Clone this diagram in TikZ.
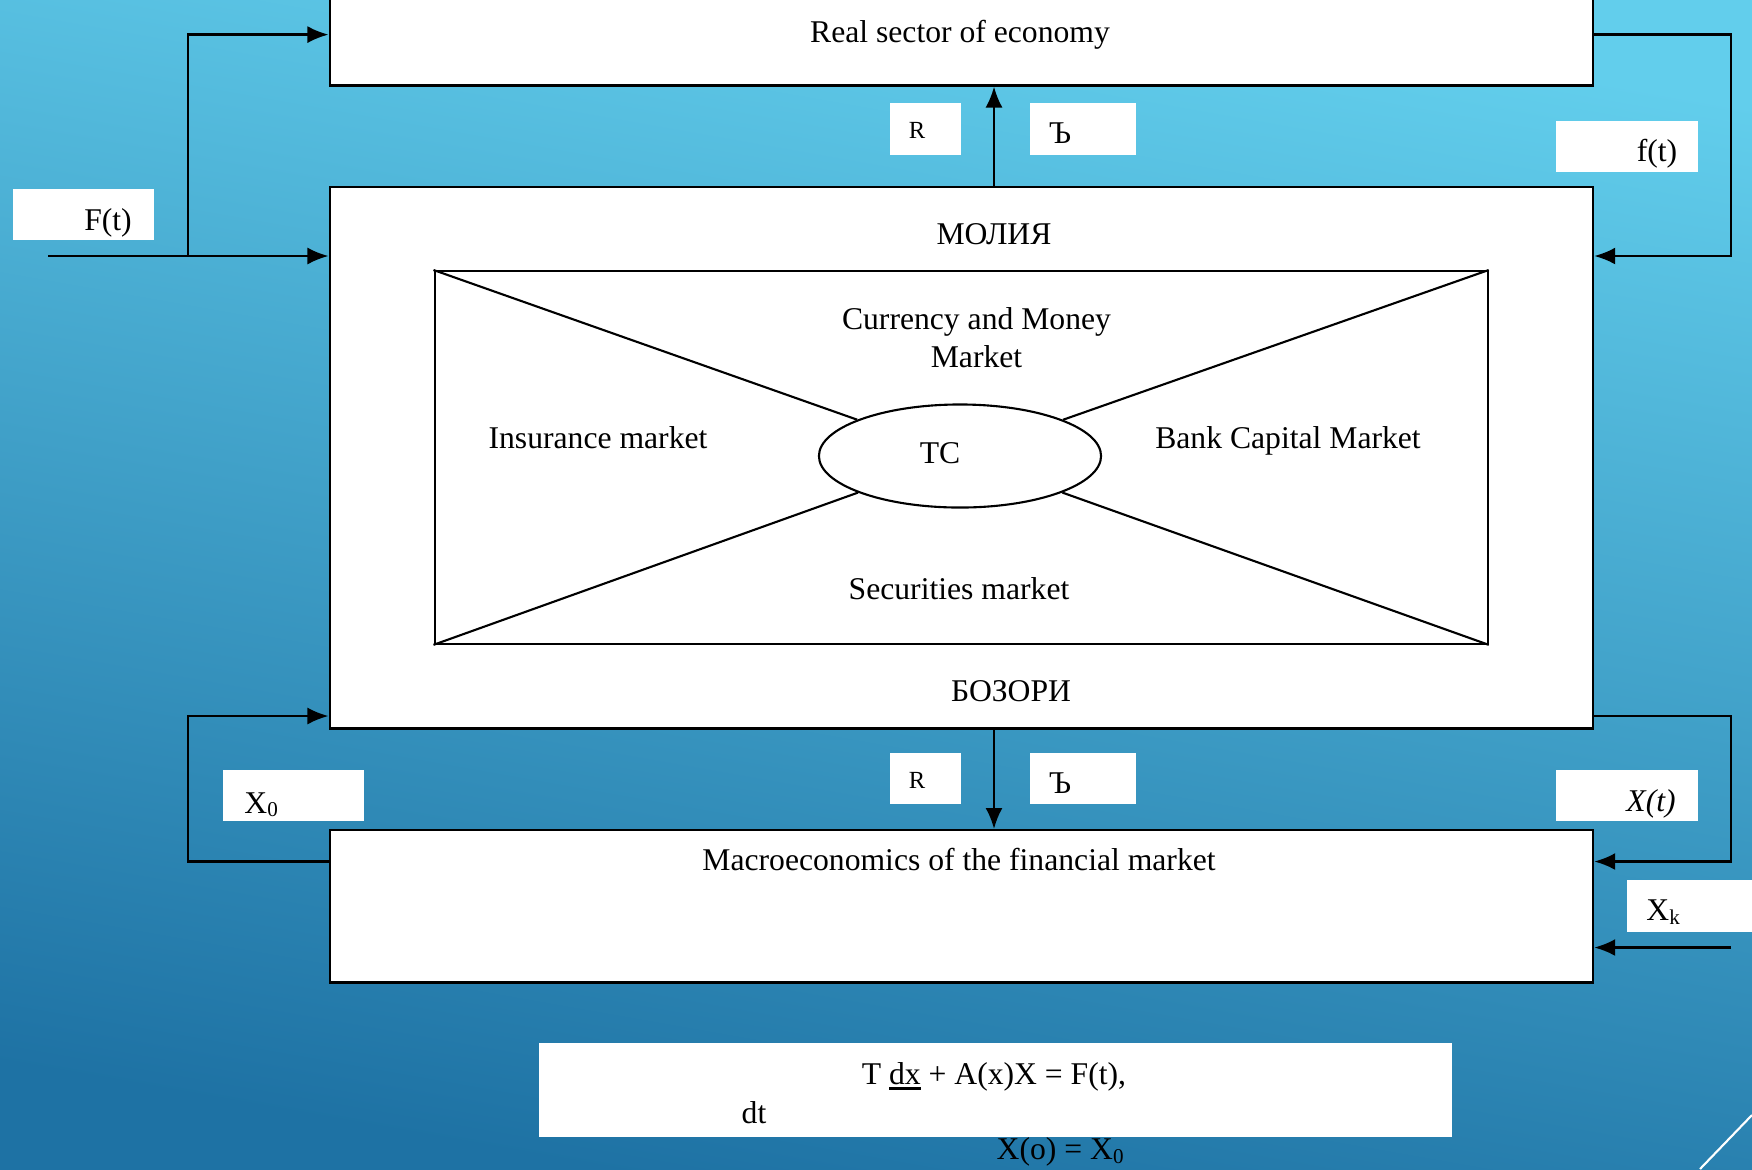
\documentclass[tikz,border=0pt]{standalone}
\usepackage{fontspec}
\setmainfont{Liberation Serif}
\usetikzlibrary{arrows.meta,shapes.geometric}
\definecolor{bgtop}{RGB}{98,206,236}
\definecolor{bgbot}{RGB}{30,114,164}
% heavier underline for the fraction numerator
\newcommand{\thickul}[1]{\setbox0\hbox{#1}\rlap{\rule[-1.6pt]{\wd0}{0.65pt}}\box0\relax}

\begin{document}
\begin{tikzpicture}[x=0.01cm, y=-0.01cm,
        >=Latex, font=\fontsize{9}{10.8}\selectfont,
        box/.style={draw, fill=white, line width=0.7pt, inner sep=0pt, anchor=north west},
        tag/.style={fill=white, inner sep=0pt, anchor=north west},
        line/.style={-{Latex[length=2.1mm,width=1.7mm]}, line width=0.7pt},
        wire/.style={line width=0.6pt}]
        % background
        \shade[top color=bgtop, bottom color=bgbot, shading angle=-10] (0,0) rectangle (1752,1169);
        \useasboundingbox (0,0) rectangle (1752,1169);
        \draw[white, line width=0.6pt] (1700,1169) -- (1752,1115);

        % blocks
        \node[box, minimum width=12.625cm, minimum height=0.9cm] (real) at (328.5,-6) {};
        \node (realtxt) at (960,34.5) {Real sector of economy};
        \node[box, minimum width=12.625cm, minimum height=5.415cm] (mkt) at (328.5,185.5) {};
        \node (mkttop) at (994,234.5) {МОЛИЯ};
        \node (mktbot) at (1011,691.5) {БОЗОРИ};
        \node[box, minimum width=12.625cm, minimum height=1.52cm] (macro) at (328.5,829) {};
        \node (macrotxt) at (959,859) {Macroeconomics of the financial market};

        % inner cross with the ellipse
        \node[box, line width=0.6pt, minimum width=10.525cm, minimum height=3.725cm] (inner) at (433.5,270) {};
        \node[draw, ellipse, fill=white, line width=0.6pt, inner sep=0pt,
            minimum width=2.82cm, minimum height=1.03cm] (tc) at (960,456) {};
        \draw[wire] (inner.north west) -- (tc);
        \draw[wire] (inner.north east) -- (tc);
        \draw[wire] (inner.south west) -- (tc);
        \draw[wire] (inner.south east) -- (tc);
        \node (tctxt) at (940,453.5) {TC};
        \node[align=center] (cur) at (976.5,338) {Currency and Money\\Market};
        \node (ins) at (598,438) {Insurance market};
        \node (bank) at (1288,440.5) {Bank Capital Market};
        \node (sec) at (959,589) {Securities market};

        % white tags
        \node[tag, minimum width=0.71cm, minimum height=0.52cm] (rtop) at (889,102) {};
        \node[tag, minimum width=1.06cm, minimum height=0.52cm] (htop) at (1029,102) {};
        \node[tag, minimum width=0.71cm, minimum height=0.51cm] (rbot) at (889,752) {};
        \node[tag, minimum width=1.06cm, minimum height=0.51cm] (hbot) at (1029,752) {};
        \node[tag, minimum width=1.41cm, minimum height=0.51cm] (ftag) at (12,188) {};
        \node[tag, minimum width=1.42cm, minimum height=0.51cm] (ftagr) at (1555,120) {};
        \node[tag, minimum width=1.41cm, minimum height=0.51cm] (xotag) at (222,769) {};
        \node[tag, minimum width=1.42cm, minimum height=0.51cm] (xttag) at (1555,769) {};
        \node[tag, minimum width=1.3cm, minimum height=0.52cm] (xktag) at (1626,879) {};
        \node[font=\fontsize{7}{8}\selectfont] (rtoptxt) at (917,130) {R};
        \node (htoptxt) at (1060,133) {Ъ};
        \node[font=\fontsize{7}{8}\selectfont] (rbottxt) at (917,780) {R};
        \node (hbottxt) at (1060,783) {Ъ};
        \node (ftxt) at (108,222.5) {F(t)};
        \node (ftxtr) at (1657,153.5) {f(t)};
        \node (xotxt) at (262,804.5) {X\textsubscript{0}};
        \node (xttxt) at (1651,803.5) {\textit{X(t)}};
        \node (xktxt) at (1664,912) {X\textsubscript{k}};

        % equation
        \node[tag, minimum width=9.125cm, minimum height=0.935cm] (eqbox) at (538.5,1042.5) {};
        \node (eq) at (994,1076.5) {T \thickul{dx} + A(x)X = F(t),};
        \node (eqdt) at (754,1113) {dt};
        \node (init) at (1061,1152) {X(o) = X\textsubscript{0}};

        % connectors
        \coordinate (mid) at (994,0);
        \draw[line] (mkt.north -| mid) -- (real.south -| mid);
        \draw[line] (mkt.south -| mid) -- (macro.north -| mid);

        \coordinate (fin) at (48,256);
        \coordinate (fl) at (188,256);
        \coordinate (ftop) at (188,34.6);
        \draw[line] (fin) -- (fin -| mkt.west);
        \draw[line] (fl) -- (ftop) -- (ftop -| real.west);

        \coordinate (fr) at (1731,34.6);
        \coordinate (frb) at (1731,256);
        \draw[line] (fr -| real.east) -- (fr) -- (frb) -- (frb -| mkt.east);

        \coordinate (xl) at (188,861.5);
        \coordinate (xlt) at (188,716);
        \draw[line] (xl -| macro.west) -- (xl) -- (xlt) -- (xlt -| mkt.west);

        \coordinate (xr) at (1731,716);
        \coordinate (xrb) at (1731,861.5);
        \draw[line] (xr -| mkt.east) -- (xr) -- (xrb) -- (xrb -| macro.east);

        \coordinate (xk) at (1731,947.5);
        \draw[line] (xk) -- (xk -| macro.east);
\end{tikzpicture}
\end{document}
